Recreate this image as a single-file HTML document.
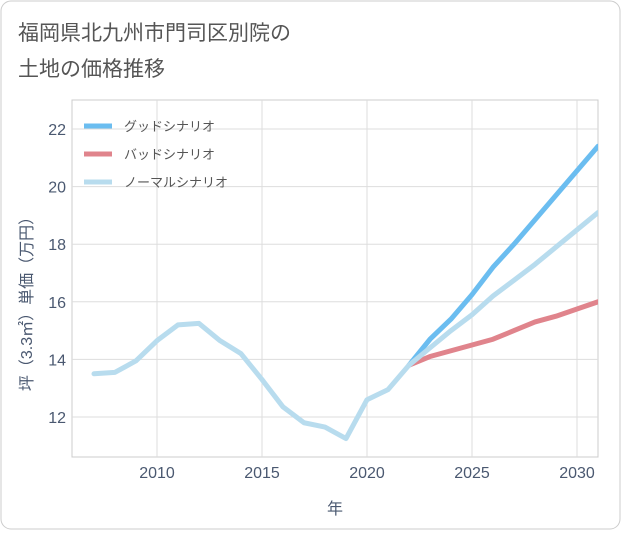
<!DOCTYPE html>
<html><head><meta charset="utf-8"><style>
body{margin:0;background:#fff;font-family:"Liberation Sans","Noto Sans CJK JP",sans-serif;}
#wrap{position:relative;width:621px;height:530px;}
</style></head><body>
<div id="wrap">
<svg id="chart" width="621" height="530"></svg>
</div>
<script>
const years=[2007,2008,2009,2010,2011,2012,2013,2014,2015,2016,2017,2018,2019,2020,2021,2022,2023,2024,2025,2026,2027,2028,2029,2030,2031];
const normal=[13.5,13.55,13.95,14.65,15.2,15.25,14.65,14.2,13.3,12.35,11.8,11.65,11.25,12.6,12.95,13.8,14.4,15.0,15.55,16.2,16.75,17.3,17.9,18.5,19.1];
const futureYears=[2022,2023,2024,2025,2026,2027,2028,2029,2030,2031];
const good=[13.8,14.7,15.4,16.25,17.2,18.0,18.85,19.7,20.55,21.4];
const bad=[13.8,14.1,14.3,14.5,14.7,15.0,15.3,15.5,15.75,16.0];
const xTicks=[2010,2015,2020,2025,2030];
const yTicks=[12,14,16,18,20,22];
const legendLabels=["グッドシナリオ","バッドシナリオ","ノーマルシナリオ"];
const colors=["#6bbdf0","#e0848c","#b8dcee"];

const NS="http://www.w3.org/2000/svg";
const svg=document.getElementById('chart');
const L=72,R=598,T=100,B=457;
const AX='#4a5870';
const x=v=>157+(v-2010)*21;
const y=v=>417-(v-12)*28.8;
function el(t,a,p){const e=document.createElementNS(NS,t);for(const k in a)e.setAttribute(k,a[k]);(p||svg).appendChild(e);return e;}
const bg=el('rect',{x:1,y:1,width:619,height:528,rx:10,fill:'#fff',stroke:'#ccc'});


const t1=el('text',{x:18,y:40,'font-size':21,fill:'#555'});t1.textContent="福岡県北九州市門司区別院の";


const t2=el('text',{x:18,y:76,'font-size':21,fill:'#555'});t2.textContent="土地の価格推移";


const plot=el('rect',{x:L,y:T,width:R-L,height:B-T,fill:'none',stroke:'#ccc'});


xTicks.forEach(v=>{
 const g=el('line',{x1:x(v),x2:x(v),y1:T,y2:B,stroke:'#ddd'});
 
 
 const t=el('text',{x:x(v),y:478,'font-size':16,fill:AX,'text-anchor':'middle'});t.textContent=v;
 
 
});
yTicks.forEach(v=>{
 const g=el('line',{x1:L,x2:R,y1:y(v),y2:y(v),stroke:'#ddd'});
 
 
 const t=el('text',{x:66,y:y(v)+6,'font-size':16,fill:AX,'text-anchor':'end'});t.textContent=v;
 
 
});
const xt=el('text',{x:335,y:514,'font-size':16,fill:AX,'text-anchor':'middle'});xt.textContent="年";


const yt=el('text',{x:0,y:0,'font-size':16,fill:AX,'text-anchor':'middle',transform:'translate(32,300) rotate(-90)'});yt.textContent="坪（3.3㎡）単価（万円）";


const defs=el('defs',{});
const clip=el('clipPath',{id:'cp'},defs);el('rect',{x:L,y:T,width:R-L,height:B-T},clip);
function line(xs,vs,c,name){
 const p=el('polyline',{points:xs.map((v,i)=>x(v)+','+y(vs[i])).join(' '),fill:'none',stroke:c,'stroke-width':5,'stroke-linejoin':'round','stroke-linecap':'round','clip-path':'url(#cp)'});
 
 
}
line(futureYears,bad,colors[1],'bad-scenario-line');
line(futureYears,good,colors[0],'good-scenario-line');
line(years,normal,colors[2],'normal-scenario-line');
legendLabels.forEach((s,i)=>{
 const yy=126+i*28;
 const l=el('line',{x1:84,x2:112,y1:yy,y2:yy,stroke:colors[i],'stroke-width':5});
 
 
 const t=el('text',{x:124,y:yy+5,'font-size':13,fill:'#555'});t.textContent=s;
 
 
});
</script>
</body></html>
